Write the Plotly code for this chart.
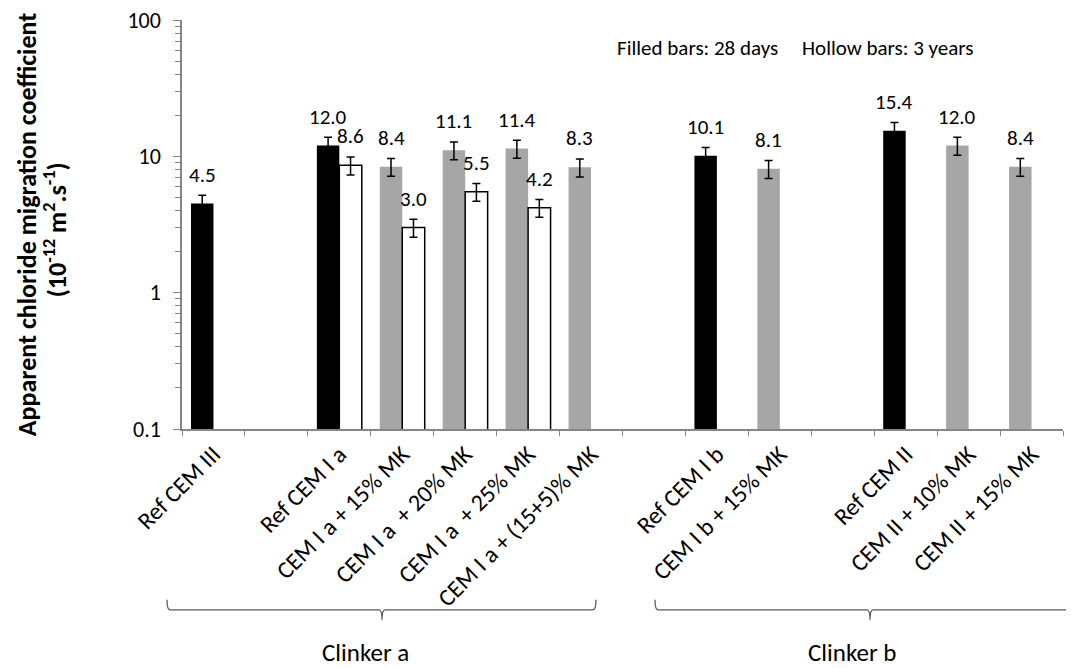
import plotly.graph_objects as go
import math

# ---- data ----
categories = ["Ref CEM III", " ", "Ref CEM I a", "CEM I a + 15% MK", "CEM I a  + 20% MK",
              "CEM I a  + 25% MK", "CEM I a + (15+5)% MK", "  ", "Ref CEM I b",
              "CEM I b + 15% MK", "   ", "Ref CEM II", "CEM II + 10% MK", "CEM II + 15% MK"]
filled_28d = [4.5, None, 12.0, 8.4, 11.1, 11.4, 8.3, None, 10.1, 8.1, None, 15.4, 12.0, 8.4]
hollow_3y = [None, None, 8.6, 3.0, 5.5, 4.2, None, None, None, None, None, None, None, None]
is_reference = [True, False, True, False, False, False, False, False, True, False, False, True, False, False]
error_percent = 15
y_tickvals = [0.1, 1, 10, 100]
y_ticktext = ["0.1", "1", "10", "100"]
y_minor = [m * 10 ** e for e in (-1, 0, 1) for m in range(2, 10)]

FONT = "Calibri, Carlito, Lato, sans-serif"
AX = "#868686"
BLACK = "#000000"
GRAY = "#a6a6a6"

filled_colors = [BLACK if r else GRAY for r in is_reference]

fig = go.Figure()
fig.add_trace(go.Bar(
    x=categories, y=filled_28d, name="28 days",
    marker=dict(color=filled_colors, line=dict(width=0)),
    error_y=dict(type="percent", value=error_percent, color=BLACK, thickness=1.5, width=4),
))
fig.add_trace(go.Bar(
    x=categories, y=hollow_3y, name="3 years",
    marker=dict(color="white", line=dict(color=BLACK, width=1.5)),
    error_y=dict(type="percent", value=error_percent, color=BLACK, thickness=1.5, width=4),
))

annotations = []
# data labels
for series, off in ((filled_28d, -0.5), (hollow_3y, 0.5)):
    for i, (c, v) in enumerate(zip(categories, series)):
        if v is None:
            continue
        annotations.append(dict(
            x=i + off * 0.357, xref="x", y=math.log10(v), yref="y",
            text=f"{v:.1f}", showarrow=False, yshift=29,
            xanchor="center", yanchor="middle",
            font=dict(family=FONT, size=21, color="#000000"),
        ))

# page has an 8px body margin; figure coords = page coords - 8
OFF = 8
W, H = 1074 - OFF, 668 - OFF
PL, PR, PT, PB = 182, 1063, 19.5, 429   # plot area in page pixels
L, T = PL - OFF, PT - OFF
R, B = W - (PR - OFF), H - (PB - OFF)
pw, ph = PR - PL, PB - PT


def px(xp):
    return (xp - PL) / pw


def py(yp):
    return (PB - yp) / ph


def page_text(xp, yp, text, size, angle=0):
    return dict(x=px(xp), y=py(yp), xref="paper", yref="paper", text=text,
                xanchor="center", yanchor="middle", textangle=angle,
                showarrow=False, font=dict(family=FONT, size=size, color="#000000"))


annotations.append(page_text(795, 48, "Filled bars: 28 days&nbsp;&nbsp;&nbsp;&nbsp;&nbsp;Hollow bars: 3 years", 21))
annotations.append(page_text(27, 224, "<b>Apparent chloride migration coefficient</b>", 26, -90))
annotations.append(page_text(55, 230, "<b>(10<sup>-12</sup> m<sup>2</sup>.s<sup>-1</sup>)</b>", 26, -90))
annotations.append(page_text(365, 653, "Clinker a", 25))
annotations.append(page_text(852, 653, "Clinker b", 25))


def bracket(x0, x1, xm, yl=610, ytop=600, ybot=620):
    pts = (f"M {px(x0)},{py(ytop)} Q {px(x0)},{py(yl)} {px(x0 + 3)},{py(yl)} "
           f"L {px(xm - 3)},{py(yl)} Q {px(xm)},{py(yl)} {px(xm)},{py(ybot)} "
           f"Q {px(xm)},{py(yl)} {px(xm + 3)},{py(yl)} "
           f"L {px(x1 - 3)},{py(yl)} Q {px(x1)},{py(yl)} {px(x1)},{py(ytop)}")
    return dict(type="path", path=pts, xref="paper", yref="paper",
                line=dict(color="#595959", width=1.3))


shapes = [bracket(167, 596, 382), bracket(655, 1085, 870)]

fig.update_layout(
    width=W, height=H,
    margin=dict(l=L, r=R, t=T, b=B, autoexpand=False),
    paper_bgcolor="white", plot_bgcolor="white",
    barmode="group", bargap=0.286, bargroupgap=0,
    showlegend=False,
    font=dict(family=FONT, size=21, color="#000000"),
    annotations=annotations, shapes=shapes,
    xaxis=dict(
        type="category", categoryorder="array", categoryarray=categories,
        tickson="boundaries", ticks="outside", ticklen=5, tickcolor=AX, tickwidth=1.3,
        showline=True, linecolor=AX, linewidth=1.5, showgrid=False,
        tickangle=-45, tickfont=dict(family=FONT, size=24, color="#000000"),
    ),
    yaxis=dict(
        type="log", range=[-1, 2], tickvals=y_tickvals, ticktext=y_ticktext,
        ticks="outside", ticklen=7, tickcolor=AX, tickwidth=1.3,
        showline=True, linecolor=AX, linewidth=1.5, showgrid=False, zeroline=False,
        tickfont=dict(family=FONT, size=22, color="#000000"), ticklabelstandoff=8,
        ticklabeloverflow="allow",
        minor=dict(tickvals=y_minor, ticks="outside", ticklen=5, tickcolor=AX,
                   tickwidth=1.3, showgrid=False),
    ),
)

fig.write_html("out.html")
